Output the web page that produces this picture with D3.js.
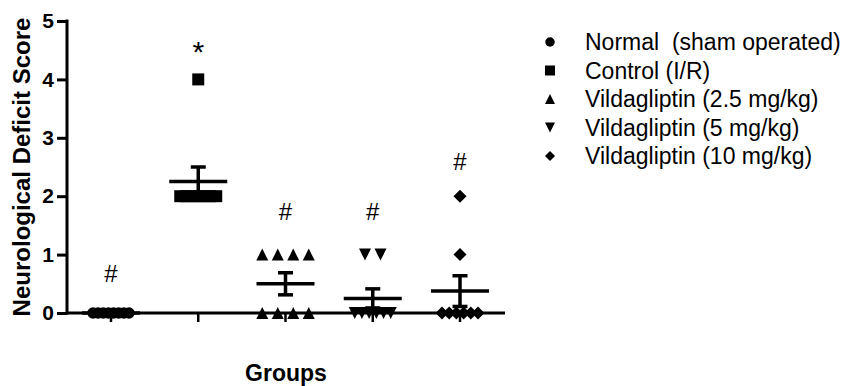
<!DOCTYPE html>
<html>
<head>
<meta charset="utf-8">
<script src="https://cdn.jsdelivr.net/npm/d3@7"></script>
<style>
  body { margin: 0; background: #fff; }
  text { font-family: "Liberation Sans", Arial, sans-serif; fill: #000; }
</style>
</head>
<body>
<svg id="chart" width="847" height="386"></svg>
<script>
// groups and individual scores (n = 8 per group)
var groups = ["Normal  (sham operated)", "Control (I/R)", "Vildagliptin (2.5 mg/kg)", "Vildagliptin (5 mg/kg)", "Vildagliptin (10 mg/kg)"];
var normalScores = [0, 0, 0, 0, 0, 0, 0, 0];
var controlScores = [2, 2, 2, 2, 2, 2, 2, 4];
var vilda25Scores = [1, 1, 1, 1, 0, 0, 0, 0];
var vilda5Scores = [1, 1, 0, 0, 0, 0, 0, 0];
var vilda10Scores = [2, 1, 0, 0, 0, 0, 0, 0];
var allScores = [normalScores, controlScores, vilda25Scores, vilda5Scores, vilda10Scores];
var markers = ["circle", "square", "triangleUp", "triangleDown", "diamond"];

// significance marks and the score level they sit at
var sigLabels = ["#", "*", "#", "#", "#"];
var sigLevels = [0.53, 4.3, 1.59, 1.59, 2.45];

var yTicks = [0, 1, 2, 3, 4, 5];

var svg = d3.select("#chart");

var x = d3.scalePoint().domain(d3.range(groups.length)).range([111, 460]);
var y = d3.scaleLinear().domain([0, 5]).range([313, 21]);

// marker path in local coords, centred on 0,0
function markerPath(kind, s) {
    var h = s / 2;
    if (kind == "circle") return d3.symbol(d3.symbolCircle, Math.PI * h * h * 0.9)();
    if (kind == "square") return "M" + (-h) + "," + (-h) + "h" + s + "v" + s + "h" + (-s) + "Z";
    if (kind == "triangleUp") return "M0," + (-h) + "L" + h + "," + h + "L" + (-h) + "," + h + "Z";
    if (kind == "triangleDown") return "M0," + h + "L" + h + "," + (-h) + "L" + (-h) + "," + (-h) + "Z";
    if (kind == "diamond") return "M0," + (-h) + "L" + h + ",0L0," + h + "L" + (-h) + ",0Z";
}

// axes
var yAxis = d3.axisLeft(y).tickValues(yTicks).tickFormat(d3.format("d")).tickSize(10).tickPadding(3);
var gy = svg.append("g").attr("transform", "translate(67,0)").call(yAxis);
gy.select(".domain").attr("stroke-width", 3).attr("d", "M0," + (y(5) - 1.5) + "V" + (y(0) + 1.5));
gy.selectAll(".tick line").attr("stroke-width", 3);
gy.selectAll(".tick text").style("font-size", "21px").style("font-weight", "bold");

svg.append("line").attr("x1", 67).attr("x2", 505).attr("y1", y(0)).attr("y2", y(0))
    .attr("stroke", "#000").attr("stroke-width", 3);
svg.selectAll(".xtick").data(d3.range(groups.length)).enter().append("line")
    .attr("x1", function(d){ return x(d); }).attr("x2", function(d){ return x(d); })
    .attr("y1", y(0)).attr("y2", y(0) + 9)
    .attr("stroke", "#000").attr("stroke-width", 2.5);

svg.append("text").attr("transform", "translate(30," + (y(0) + y(5)) / 2 + ") rotate(-90)")
    .attr("text-anchor", "middle").style("font-size", "24px").style("font-weight", "bold")
    .text("Neurological Deficit Score");
svg.append("text").attr("x", 286).attr("y", 381).attr("text-anchor", "middle")
    .style("font-size", "23px").style("font-weight", "bold").text("Groups");

// scatter points, equal scores spread sideways
var sizes = [12, 12, 12, 12, 13];
allScores.forEach(function(scores, gi) {
    var byValue = d3.group(scores, function(v){ return v; });
    var pts = [];
    byValue.forEach(function(vals, v) {
        var n = vals.length;
        var step = n <= 4 ? 15.5 : 36 / (n - 1);
        vals.forEach(function(_, k) {
            pts.push({ v: v, dx: (k - (n - 1) / 2) * step });
        });
    });
    svg.append("g").selectAll("path").data(pts).enter().append("path")
        .attr("d", markerPath(markers[gi], sizes[gi]))
        .attr("transform", function(d){ return "translate(" + (x(gi) + d.dx) + "," + y(d.v) + ")"; })
        .attr("fill", "#000");
});

// mean and SEM
allScores.forEach(function(scores, gi) {
    var m = d3.mean(scores);
    var sem = d3.deviation(scores) / Math.sqrt(scores.length);
    var cx = x(gi);
    var g = svg.append("g").attr("stroke", "#000").attr("stroke-width", 3.5);
    g.append("line").attr("x1", cx - 29).attr("x2", cx + 29).attr("y1", y(m)).attr("y2", y(m));
    g.append("line").attr("x1", cx).attr("x2", cx).attr("y1", y(m - sem)).attr("y2", y(m + sem));
    [m - sem, m + sem].forEach(function(v) {
        g.append("line").attr("x1", cx - 7.5).attr("x2", cx + 7.5).attr("y1", y(v)).attr("y2", y(v));
    });
});

// significance marks
svg.selectAll(".sig").data(sigLabels).enter().append("text")
    .attr("x", function(d, i){ return x(i); })
    .attr("y", function(d, i){ return y(sigLevels[i]); })
    .attr("text-anchor", "middle")
    .style("font-size", function(d){ return d == "*" ? "30px" : "24px"; })
    .text(function(d){ return d; });

// legend
var leg = svg.append("g").selectAll("g").data(groups).enter().append("g")
    .attr("transform", function(d, i){ return "translate(550," + (42 + i * 28.5) + ")"; });
leg.append("path").attr("d", function(d, i){ return markerPath(markers[i], 10); }).attr("fill", "#000");
leg.append("text").attr("x", 35).attr("dy", "0.35em").style("font-size", "23px")
    .style("white-space", "pre").text(function(d){ return d; });
</script>
</body>
</html>
